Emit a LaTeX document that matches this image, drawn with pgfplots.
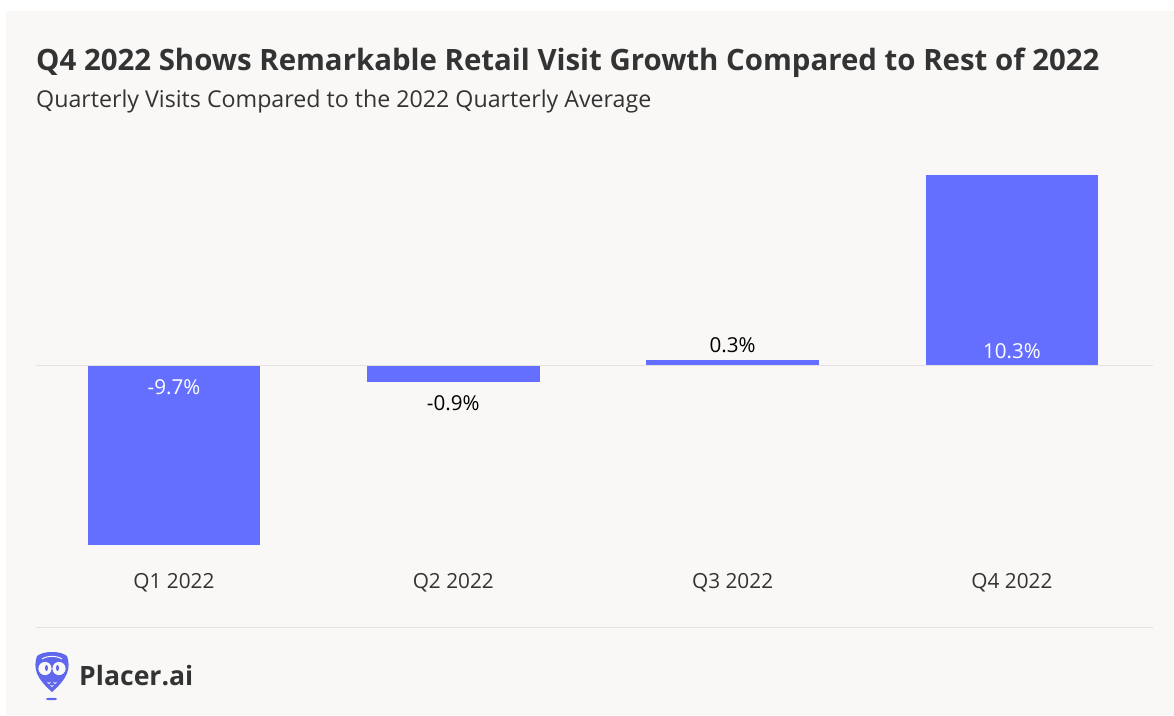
\documentclass[border=0pt]{standalone}
\usepackage{pgfplots}
\pgfplotsset{compat=1.18}
\usepackage{fontspec}
\setmainfont{Open Sans}
\definecolor{panel}{HTML}{F9F8F7}
\definecolor{barblue}{HTML}{656FFF}
\definecolor{owl}{HTML}{5F67EC}
\definecolor{ink}{HTML}{333333}
\definecolor{rule}{HTML}{E4E3E1}
\begin{document}
\begin{tikzpicture}[x=1pt,y=-1pt]
\useasboundingbox (0,0) rectangle (1174,715);
\fill[panel] (6,11) rectangle (1174,715);
% heading block
\node[anchor=base west,inner sep=0pt,text=ink] at (36,70) {\fontsize{29.4}{34}\selectfont\bfseries Q4 2022 Shows Remarkable Retail Visit Growth Compared to Rest of 2022};
\node[anchor=base west,inner sep=0pt,text=ink] at (36,107) {\fontsize{23.2}{28}\selectfont Quarterly Visits Compared to the 2022 Quarterly Average};
% footer rule and logo
\draw[rule,line width=1.3pt] (36,627.5) -- (1153,627.5);
\fill[owl] (52,652) .. controls (46,652) and (41,653) .. (37,656)
  .. controls (33,668) and (36,678) .. (52,692)
  .. controls (68,678) and (71,668) .. (67,656)
  .. controls (63,653) and (58,652) .. (52,652) -- cycle;
\draw[panel,line width=1pt] (42,659) .. controls (47,655.5) and (57,655.5) .. (62,659);
\fill[panel] (45,668.5) circle (6.6);
\fill[panel] (59,668.5) circle (6.6);
\fill[owl] (46.5,668) ellipse (1.5 and 3);
\fill[owl] (57.5,668) ellipse (1.5 and 3);
\draw[panel,line width=.7pt] (47.5,682) -- (49,683.5) -- (50.5,682) (53.5,682) -- (55,683.5) -- (56.5,682) (50.5,685) -- (52,686.5) -- (53.5,685);
\fill[owl] (51.5,699) ellipse (6 and 1.2);
\node[anchor=base west,inner sep=0pt,text=ink] at (79,685) {\fontsize{26.6}{32}\selectfont\bfseries Placer.ai};
\begin{axis}[
  at={(36pt,-545pt)},anchor=south west,
  scale only axis,width=1117pt,height=370pt,
  xmin=-0.494,xmax=3.505,ymin=-9.7,ymax=10.3,
  axis line style={draw=none},
  major tick length=0pt,
  xtick={0,1,2,3},
  xticklabels={Q1 2022,Q2 2022,Q3 2022,Q4 2022},
  ytick=\empty,
  xticklabel style={text=ink,font=\fontsize{20.8}{24}\selectfont,anchor=center,yshift=-38pt},
  clip=false,
  /pgf/number format/assume math mode=true,
  /pgf/number format/fixed,
  /pgf/number format/fixed zerofill,
  /pgf/number format/precision=1,
  /pgfplots/bar shift=0pt,
  /pgfplots/bar width=172.5pt,
]
\addplot[ybar,fill=barblue,draw=none,nodes near coords={\pgfmathprintnumber{\pgfplotspointmeta}\%},every node near coord/.append style={anchor=center,yshift=158pt,text=white,font=\fontsize{20.6}{24}\selectfont}] coordinates {(0,-9.7)};
\addplot[ybar,fill=barblue,draw=none,nodes near coords={\pgfmathprintnumber{\pgfplotspointmeta}\%},every node near coord/.append style={anchor=center,yshift=-21pt,text=black,font=\fontsize{20.6}{24}\selectfont}] coordinates {(1,-0.9)};
\addplot[ybar,fill=barblue,draw=none,nodes near coords={\pgfmathprintnumber{\pgfplotspointmeta}\%},every node near coord/.append style={anchor=center,yshift=15pt,text=black,font=\fontsize{20.6}{24}\selectfont}] coordinates {(2,0.3)};
\addplot[ybar,fill=barblue,draw=none,nodes near coords={\pgfmathprintnumber{\pgfplotspointmeta}\%},every node near coord/.append style={anchor=center,yshift=-176pt,text=white,font=\fontsize{20.6}{24}\selectfont}] coordinates {(3,10.3)};
% baseline drawn over the bars
\addplot[rule,line width=1.5pt,forget plot] coordinates {(-0.494,0) (3.505,0)};
\end{axis}
\end{tikzpicture}
\end{document}
